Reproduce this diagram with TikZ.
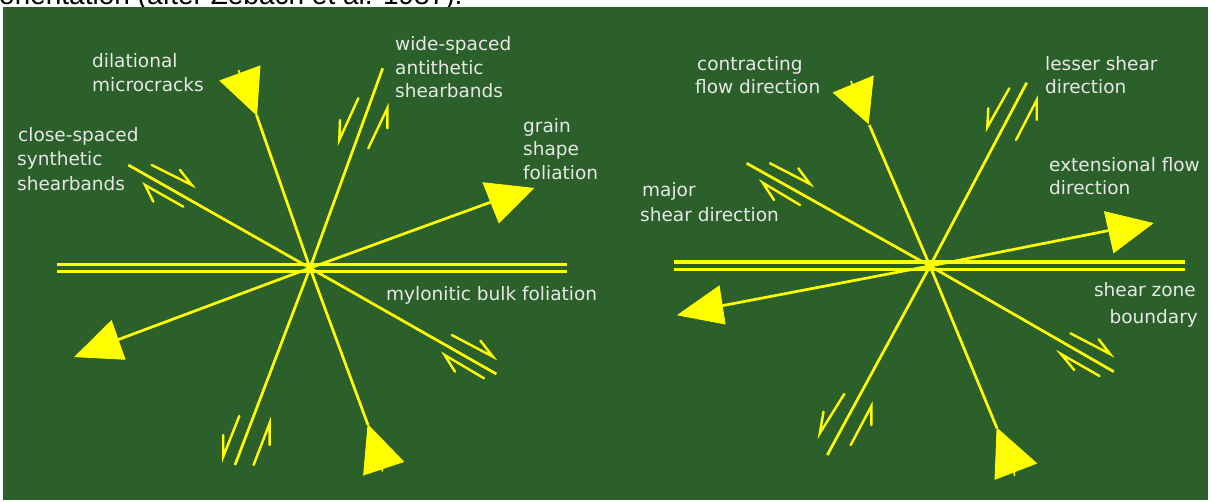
\documentclass[tikz,border=0pt]{standalone}
\usepackage{fontspec}
\setmainfont{DejaVu Sans}
\newfontfamily\capfont{Liberation Sans}
\definecolor{board}{RGB}{44,96,42}
\definecolor{chalk}{RGB}{255,255,0}
\definecolor{labelgray}{RGB}{232,232,232}

\begin{document}
\begin{tikzpicture}[x=1pt,y=-1pt,
  axis/.style={chalk, line width=2.7pt},
  band/.style={chalk, line width=3.3pt},
  sense/.style={chalk, line width=2.4pt, line join=miter, line cap=round},
  head/.style={fill=chalk, draw=chalk, line width=0.8pt, line join=miter},
  tick/.style={chalk, line width=1.6pt},
  lab/.style={labelgray, font=\fontsize{18.5}{22}\selectfont, anchor=base west, inner sep=0pt},
  ]
\path[use as bounding box] (0,0) rectangle (1211,502);
\clip (0,0) rectangle (1211,502);

% caption line running above the board
\node[anchor=base west, inner sep=0pt, font=\capfont\fontsize{28}{32}\selectfont] (caption) at (-1,5) {orientation (after Zebach et al. 1987).};

% the board
\fill[board] (3,7) rectangle (1208,500);

% ================= left diagram =================
\coordinate (Lc) at (310,268);
% mylonitic bulk foliation (double line)
\coordinate (Lf1a) at (57,264.7);  \coordinate (Lf1b) at (567,264.7);
\coordinate (Lf2a) at (57,271.3);  \coordinate (Lf2b) at (567,271.3);
\draw[band] (Lf1a) -- (Lf1b);
\draw[band] (Lf2a) -- (Lf2b);

% close-spaced synthetic shearbands
\coordinate (Ls1) at (128.3,165); \coordinate (Ls2) at (496.4,374);
\draw[axis] (Ls1) -- (Lc) -- (Ls2);
% wide-spaced antithetic shearbands
\coordinate (La1) at (382.7,68.3); \coordinate (La2) at (235,465);
\draw[axis] (La1) -- (Lc) -- (La2);
% dilational microcracks
\coordinate (Ld1) at (256.5,115); \coordinate (Ld2) at (368,425);
\draw[axis] (Ld1) -- (Lc) -- (Ld2);
% grain shape foliation
\coordinate (Lg1) at (112.5,341.7); \coordinate (Lg2) at (496.7,200);
\draw[axis] (Lg1) -- (Lc) -- (Lg2);

% arrowheads, grain shape foliation
\filldraw[head] (533.4,188.3) -- (483,182.7) -- (499,222.7) -- cycle;
\filldraw[head] (75,356.7) -- (111.4,320.7) -- (125,359.3) -- cycle;
% arrowheads, dilational microcracks (pointing inwards)
\filldraw[head] (256.7,115) -- (220,80.7) -- (260,66) -- cycle;
\draw[tick] (238.5,70) -- (240.5,76);
\filldraw[head] (368,425) -- (403.6,461.7) -- (363.6,475) -- cycle;
\draw[tick] (382,466) -- (382.5,471.5);

% shear sense, synthetic bands
\draw[sense] (180,170) -- (191.7,185) -- (151.7,165);
\draw[sense] (153.3,201.7) -- (145,185) -- (183.3,206.7);
\draw[sense] (480.4,340.7) -- (492.9,356.7) -- (451.8,335);
\draw[sense] (455,371.7) -- (444.6,355) -- (484,378.3);
% shear sense, antithetic bands
\draw[sense] (358.3,98.3) -- (339.3,140) -- (340,120);
\draw[sense] (368.3,148.3) -- (387.3,108.3) -- (387.3,128.3);
\draw[sense] (239.3,416) -- (223.2,456.7) -- (223.2,435);
\draw[sense] (253.6,465) -- (269.6,423.3) -- (269.6,445);

% labels
\node[lab] (dil1) at (92,68) {dilational};
\node[lab] (dil2) at (92,92) {microcracks};
\node[lab] (syn1) at (18,142) {close-spaced};
\node[lab] (syn2) at (17,166) {synthetic};
\node[lab] (syn3) at (17,191) {shearbands};
\node[lab] (ant1) at (395,51) {wide-spaced};
\node[lab] (ant2) at (395,75) {antithetic};
\node[lab] (ant3) at (395,98) {shearbands};
\node[lab] (gsf1) at (523,133) {grain};
\node[lab] (gsf2) at (523,155.5) {shape};
\node[lab] (gsf3) at (523,179.5) {foliation};
\node[lab] (myl) at (386,301) {mylonitic bulk foliation};

% ================= right diagram =================
\coordinate (Rc) at (930,266);
% shear zone boundary (double line)
\coordinate (Rb1a) at (674,262);   \coordinate (Rb1b) at (1185,262);
\coordinate (Rb2a) at (674,269.3); \coordinate (Rb2b) at (1185,269.3);
\draw[band] (Rb1a) -- (Rb1b);
\draw[band] (Rb2a) -- (Rb2b);

% major shear direction
\coordinate (Rm1) at (746.7,163.3); \coordinate (Rm2) at (1113.8,371.7);
\draw[axis] (Rm1) -- (Rc) -- (Rm2);
% lesser shear direction
\coordinate (Rl1) at (1026.7,82.7); \coordinate (Rl2) at (827.3,455);
\draw[axis] (Rl1) -- (Rc) -- (Rl2);
% contracting flow direction
\coordinate (Rk1) at (869.3,125); \coordinate (Rk2) at (997,428.3);
\draw[axis] (Rk1) -- (Rc) -- (Rk2);
% extensional flow direction
\coordinate (Re1) at (716.9,306.7); \coordinate (Re2) at (1111.4,230);
\draw[axis] (Re1) -- (Rc) -- (Re2);

% arrowheads, extensional flow
\filldraw[head] (1152.7,223.3) -- (1104.5,211.7) -- (1113.7,252.7) -- cycle;
\filldraw[head] (677.9,315) -- (719.2,286) -- (725.1,324) -- cycle;
% arrowheads, contracting flow (pointing inwards)
\filldraw[head] (868.3,123.3) -- (833.3,92.7) -- (873.3,76) -- cycle;
\draw[tick] (851,81) -- (853,87);
\filldraw[head] (997,428.3) -- (1036.5,463.3) -- (995,479.3) -- cycle;
\draw[tick] (1014,470) -- (1014.5,476);

% shear sense, major shear direction
\draw[sense] (798.3,168.3) -- (810,184) -- (770,163.3);
\draw[sense] (774,200) -- (762.7,182.7) -- (800,205);
\draw[sense] (1098.7,339.3) -- (1110,354) -- (1070.4,333.3);
\draw[sense] (1074.2,370) -- (1061,354) -- (1099.5,376);
% shear sense, lesser shear direction
\draw[sense] (1009.3,88.3) -- (987.3,127.3) -- (988.3,108.3);
\draw[sense] (1016,140) -- (1036.7,100) -- (1036.7,120);
\draw[sense] (844.3,394) -- (819.8,433.3) -- (823.5,411.7);
\draw[sense] (850.7,445) -- (871.4,406) -- (871.4,425);

% labels
\node[lab] (con1) at (697,70.5) {contracting};
\node[lab] (con2) at (695,94) {flow direction};
\node[lab] (maj1) at (642,196.5) {major};
\node[lab] (maj2) at (640,221.5) {shear direction};
\node[lab] (les1) at (1045,70.5) {lesser shear};
\node[lab] (les2) at (1045,94) {direction};
\node[lab] (ext1) at (1049,171.5) {extensional flow};
\node[lab] (ext2) at (1049,195) {direction};
\node[lab, anchor=base east] (szb1) at (1196,297) {shear zone};
\node[lab, anchor=base east] (szb2) at (1198,324) {boundary};
\end{tikzpicture}
\end{document}
